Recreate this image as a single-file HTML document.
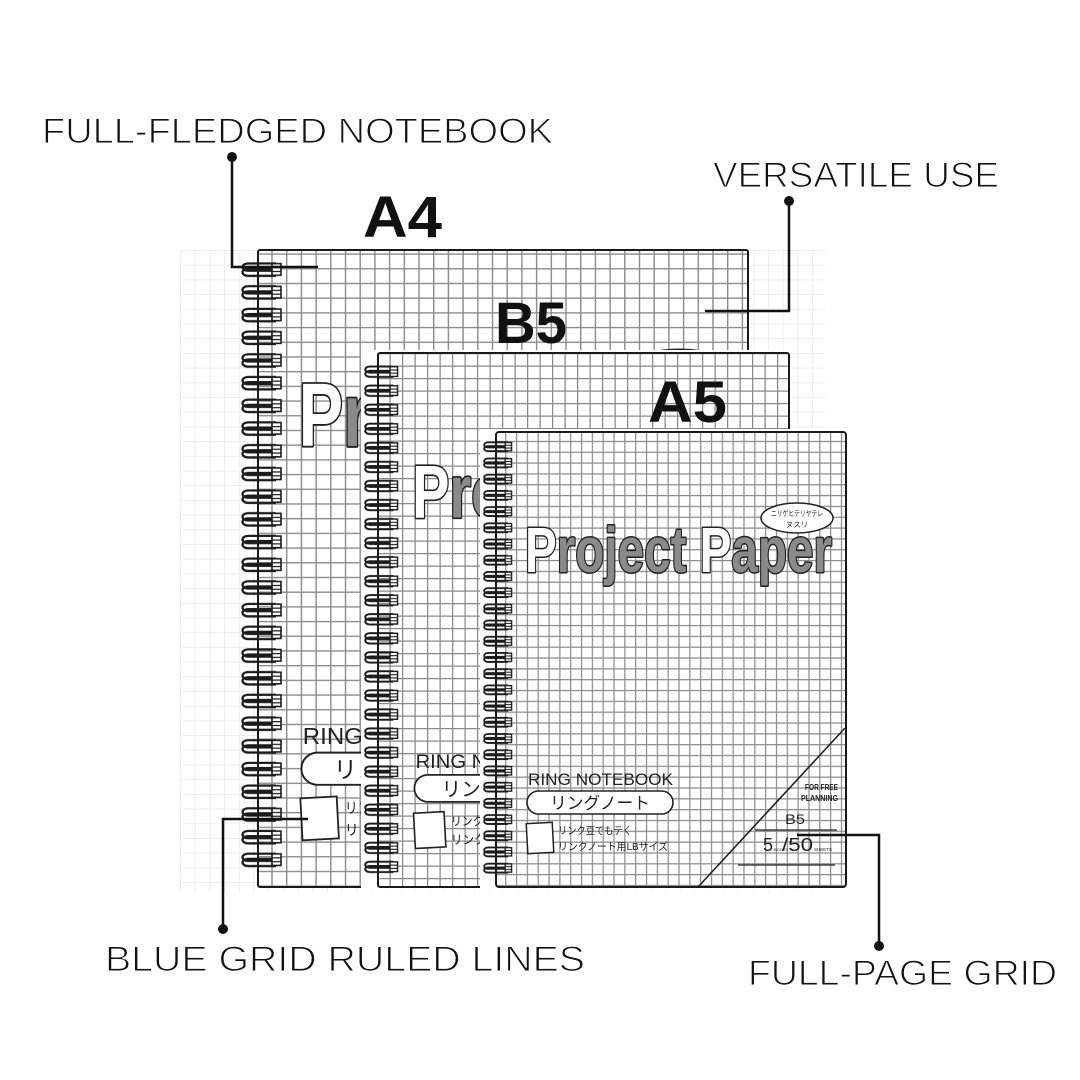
<!DOCTYPE html>
<html>
<head>
<meta charset="utf-8">
<style>
  html,body{margin:0;padding:0;background:#fff;}
  svg{display:block;}
  .lbl{font-family:"Liberation Sans",sans-serif;font-weight:normal;fill:#111;stroke:#fff;stroke-width:1.1px;}
  .sz{font-family:"Liberation Sans",sans-serif;font-weight:bold;fill:#111;}
  .jp{font-family:"Liberation Sans","Noto Sans CJK JP",sans-serif;}
</style>
</head>
<body>
<svg width="1080" height="1080" viewBox="0 0 1080 1080" xmlns="http://www.w3.org/2000/svg">
  <defs>
    <pattern id="gBG" patternUnits="userSpaceOnUse" x="180" y="250" width="14.7" height="14.7">
      <path d="M0 0.5H14.7M0.5 0V14.7" stroke="#ededed" stroke-width="1" fill="none"/>
    </pattern>
    <pattern id="gA4" patternUnits="userSpaceOnUse" x="256.6" y="253.4" width="14.7" height="14.7">
      <path d="M0 0.7H14.7M0.7 0V14.7" stroke="#8a8a8a" stroke-width="1.4" fill="none"/>
    </pattern>
    <pattern id="gB5" patternUnits="userSpaceOnUse" x="377" y="353" width="12.5" height="12.5">
      <path d="M0 0.6H12.5M0.6 0V12.5" stroke="#8a8a8a" stroke-width="1.3" fill="none"/>
    </pattern>
    <pattern id="gA5" patternUnits="userSpaceOnUse" x="494.3" y="430" width="10.83" height="10.83">
      <path d="M0 0.6H10.83M0.6 0V10.83" stroke="#8a8a8a" stroke-width="1.2" fill="none"/>
    </pattern>

    <pattern id="cA4" patternUnits="userSpaceOnUse" x="0" y="0" width="46" height="22.7" patternTransform="translate(238,258.65)">
      <g fill="none" stroke="#1b1b1b" stroke-width="2.3">
        <path d="M38 4.8H10A5.5 3.6 0 0 0 10 12H38"/>
        <path d="M38 10H10A5.5 3.6 0 0 0 10 17.2H38"/>
      </g>
      <rect x="34" y="5" width="9" height="11.6" fill="#fff" stroke="#1b1b1b" stroke-width="1.6"/>
      <path d="M34 9H43M34 12.8H43" stroke="#1b1b1b" stroke-width="1.2"/>
    </pattern>
    <pattern id="cB5" patternUnits="userSpaceOnUse" x="0" y="0" width="46" height="22.7" patternTransform="translate(361.5,362.5) scale(0.839)">
      <g fill="none" stroke="#1b1b1b" stroke-width="2.4">
        <path d="M38 4.8H10A5.5 3.6 0 0 0 10 12H38"/>
        <path d="M38 10H10A5.5 3.6 0 0 0 10 17.2H38"/>
      </g>
      <rect x="34" y="5" width="9" height="11.6" fill="#fff" stroke="#1b1b1b" stroke-width="1.7"/>
      <path d="M34 9H43M34 12.8H43" stroke="#1b1b1b" stroke-width="1.3"/>
    </pattern>
    <pattern id="cA5" patternUnits="userSpaceOnUse" x="0" y="0" width="46" height="22.7" patternTransform="translate(480.9,438.9) scale(0.714)">
      <g fill="none" stroke="#1b1b1b" stroke-width="2.6">
        <path d="M38 4.8H10A5.5 3.6 0 0 0 10 12H38"/>
        <path d="M38 10H10A5.5 3.6 0 0 0 10 17.2H38"/>
      </g>
      <rect x="34" y="5" width="9" height="11.6" fill="#fff" stroke="#1b1b1b" stroke-width="1.9"/>
      <path d="M34 9H43M34 12.8H43" stroke="#1b1b1b" stroke-width="1.4"/>
    </pattern>
  </defs>

  <rect width="1080" height="1080" fill="#fff"/>
  <!-- faint background grid -->
  <rect x="180" y="250" width="645" height="642" fill="url(#gBG)"/>

  <!-- ================= A4 ================= -->
  <rect x="258" y="250" width="490" height="637" fill="#fff"/>
  <rect x="258" y="250" width="490" height="637" fill="url(#gA4)"/>
  <g transform="translate(258,250) scale(1.4)">
    <text x="29" y="140" font-family="Liberation Sans, sans-serif" font-weight="bold" font-size="64" textLength="307" lengthAdjust="spacingAndGlyphs" stroke="#222" stroke-width="2.6" paint-order="stroke" stroke-linejoin="round"><tspan fill="#fff">P</tspan><tspan fill="#8a8a8a">roject </tspan><tspan fill="#fff">P</tspan><tspan fill="#8a8a8a">aper</tspan></text>
    <ellipse cx="301" cy="86" rx="36" ry="15" fill="#fff" stroke="#222" stroke-width="1.3"/>
    <text x="32" y="353" font-family="Liberation Sans, sans-serif" font-size="16.5" textLength="145" lengthAdjust="spacingAndGlyphs" fill="#222">RING NOTEBOOK</text>
    <rect x="31" y="359" width="146" height="23" rx="11.5" fill="#fff" stroke="#222" stroke-width="1.4"/>
    <text class="jp" x="104" y="377" text-anchor="middle" font-size="17" textLength="100" lengthAdjust="spacingAndGlyphs" fill="#222">リングノート</text>
    <rect x="31" y="391" width="26" height="30" fill="#fff" stroke="#222" stroke-width="1.3" transform="rotate(-3 44 406)"/>
    <text class="jp" x="62" y="402" font-size="10.5" textLength="74" lengthAdjust="spacingAndGlyphs" fill="#222">リンク豆でもテく</text>
    <text class="jp" x="62" y="418" font-size="10.5" textLength="110" lengthAdjust="spacingAndGlyphs" fill="#222">リンクノート用LBサイズ</text>
  </g>
  <rect x="258" y="250" width="490" height="637" rx="2" fill="none" stroke="#1a1a1a" stroke-width="2"/>
  <rect x="238" y="258.65" width="46" height="612.9" fill="url(#cA4)"/>

  <!-- ================= B5 ================= -->
  <rect x="361" y="350" width="430" height="540" fill="#fff"/>
  <rect x="378" y="353" width="411" height="534" fill="url(#gB5)"/>
  <g transform="translate(378,353) scale(1.175)">
    <text x="29" y="140" font-family="Liberation Sans, sans-serif" font-weight="bold" font-size="64" textLength="307" lengthAdjust="spacingAndGlyphs" stroke="#222" stroke-width="2.8" paint-order="stroke" stroke-linejoin="round"><tspan fill="#fff">P</tspan><tspan fill="#8a8a8a">roject </tspan><tspan fill="#fff">P</tspan><tspan fill="#8a8a8a">aper</tspan></text>
    <ellipse cx="301" cy="86" rx="36" ry="15" fill="#fff" stroke="#222" stroke-width="1.4"/>
    <text x="32" y="353" font-family="Liberation Sans, sans-serif" font-size="16.5" textLength="145" lengthAdjust="spacingAndGlyphs" fill="#222">RING NOTEBOOK</text>
    <rect x="31" y="359" width="146" height="23" rx="11.5" fill="#fff" stroke="#222" stroke-width="1.5"/>
    <text class="jp" x="104" y="377" text-anchor="middle" font-size="17" textLength="100" lengthAdjust="spacingAndGlyphs" fill="#222">リングノート</text>
    <rect x="31" y="391" width="26" height="30" fill="#fff" stroke="#222" stroke-width="1.4" transform="rotate(-3 44 406)"/>
    <text class="jp" x="62" y="402" font-size="10.5" textLength="74" lengthAdjust="spacingAndGlyphs" fill="#222">リンク豆でもテく</text>
    <text class="jp" x="62" y="418" font-size="10.5" textLength="110" lengthAdjust="spacingAndGlyphs" fill="#222">リンクノート用LBサイズ</text>
  </g>
  <rect x="378" y="353" width="411" height="534" rx="2" fill="none" stroke="#1a1a1a" stroke-width="2"/>
  <rect x="361.5" y="362.5" width="38.6" height="514.2" fill="url(#cB5)"/>

  <!-- ================= A5 ================= -->
  <rect x="480" y="429" width="368" height="461" fill="#fff"/>
  <rect x="496" y="432" width="350" height="455" fill="url(#gA5)"/>
  <g transform="translate(496,432)">
    <text x="29" y="140" font-family="Liberation Sans, sans-serif" font-weight="bold" font-size="64" textLength="307" lengthAdjust="spacingAndGlyphs" stroke="#222" stroke-width="3" paint-order="stroke" stroke-linejoin="round"><tspan fill="#fff">P</tspan><tspan fill="#8a8a8a">roject </tspan><tspan fill="#fff">P</tspan><tspan fill="#8a8a8a">aper</tspan></text>
    <ellipse cx="301" cy="86" rx="36" ry="15" fill="#fff" stroke="#222" stroke-width="1.5"/>
    <text class="jp" x="301" y="84" text-anchor="middle" font-size="7.5" textLength="52" lengthAdjust="spacingAndGlyphs" fill="#222">ニリゲヒテリヤテレ</text>
    <text class="jp" x="301" y="95" text-anchor="middle" font-size="7.5" fill="#222">ヌスリ</text>
    <text x="32" y="353" font-family="Liberation Sans, sans-serif" font-size="16.5" textLength="145" lengthAdjust="spacingAndGlyphs" fill="#222">RING NOTEBOOK</text>
    <rect x="31" y="359" width="146" height="23" rx="11.5" fill="#fff" stroke="#222" stroke-width="1.6"/>
    <text class="jp" x="104" y="377" text-anchor="middle" font-size="17" textLength="100" lengthAdjust="spacingAndGlyphs" fill="#222">リングノート</text>
    <rect x="31" y="391" width="26" height="30" fill="#fff" stroke="#222" stroke-width="1.5" transform="rotate(-3 44 406)"/>
    <text class="jp" x="62" y="402" font-size="10.5" textLength="74" lengthAdjust="spacingAndGlyphs" fill="#222">リンク豆でもテく</text>
    <text class="jp" x="62" y="418" font-size="10.5" textLength="110" lengthAdjust="spacingAndGlyphs" fill="#222">リンクノート用LBサイズ</text>
    <line x1="202" y1="455" x2="349" y2="296" stroke="#222" stroke-width="1.6"/>
    <text x="342" y="358" text-anchor="end" font-family="Liberation Sans, sans-serif" font-weight="bold" font-size="8" textLength="33" lengthAdjust="spacingAndGlyphs" fill="#222">FOR FREE</text>
    <text x="342" y="369" text-anchor="end" font-family="Liberation Sans, sans-serif" font-weight="bold" font-size="8" textLength="37" lengthAdjust="spacingAndGlyphs" fill="#222">PLANNING</text>
    <text x="289" y="392" font-family="Liberation Sans, sans-serif" font-size="14" textLength="20" lengthAdjust="spacingAndGlyphs" fill="#222">B5</text>
    <line x1="259" y1="398" x2="341" y2="398" stroke="#222" stroke-width="1.2"/>
    <text x="267" y="419" font-family="Liberation Sans, sans-serif" font-size="18" fill="#222">5</text>
    <text x="278" y="419" font-family="Liberation Sans, sans-serif" font-size="4" fill="#222">BOOKS</text>
    <text x="286" y="419" font-family="Liberation Sans, sans-serif" font-size="18" textLength="31" lengthAdjust="spacingAndGlyphs" fill="#222">/50</text>
    <text x="318" y="419" font-family="Liberation Sans, sans-serif" font-size="4.5" fill="#222">SHEETS</text>
    <line x1="242" y1="433" x2="339" y2="433" stroke="#222" stroke-width="1.2"/>
  </g>
  <rect x="496" y="432" width="350" height="455" rx="3" fill="none" stroke="#1a1a1a" stroke-width="2"/>
  <rect x="480.9" y="438.9" width="32.8" height="437.6" fill="url(#cA5)"/>

  <!-- size labels -->
  <text class="sz" x="363" y="237" font-size="58" textLength="79" lengthAdjust="spacingAndGlyphs">A4</text>
  <text class="sz" x="495" y="343" font-size="58" textLength="72" lengthAdjust="spacingAndGlyphs">B5</text>
  <text class="sz" x="648" y="422" font-size="58" textLength="79" lengthAdjust="spacingAndGlyphs">A5</text>

  <!-- callout labels -->
  <text class="lbl" x="42" y="143" font-size="35" textLength="511" lengthAdjust="spacingAndGlyphs">FULL-FLEDGED NOTEBOOK</text>
  <text class="lbl" x="713" y="187" font-size="35" textLength="286" lengthAdjust="spacingAndGlyphs">VERSATILE USE</text>
  <text class="lbl" x="105" y="971" font-size="35" textLength="480" lengthAdjust="spacingAndGlyphs">BLUE GRID RULED LINES</text>
  <text class="lbl" x="748" y="985" font-size="35" textLength="309" lengthAdjust="spacingAndGlyphs">FULL-PAGE GRID</text>

  <!-- connectors -->
  <g fill="none" stroke="#111" stroke-width="2.5">
    <path d="M232 157V267H318"/>
    <path d="M789 201V311H705"/>
    <path d="M223 929V819H308"/>
    <path d="M879 946V835H797"/>
  </g>
  <g fill="#111">
    <circle cx="232" cy="157" r="5"/>
    <circle cx="789" cy="201" r="5"/>
    <circle cx="223" cy="929" r="5"/>
    <circle cx="879" cy="946" r="5"/>
  </g>
</svg>
</body>
</html>
